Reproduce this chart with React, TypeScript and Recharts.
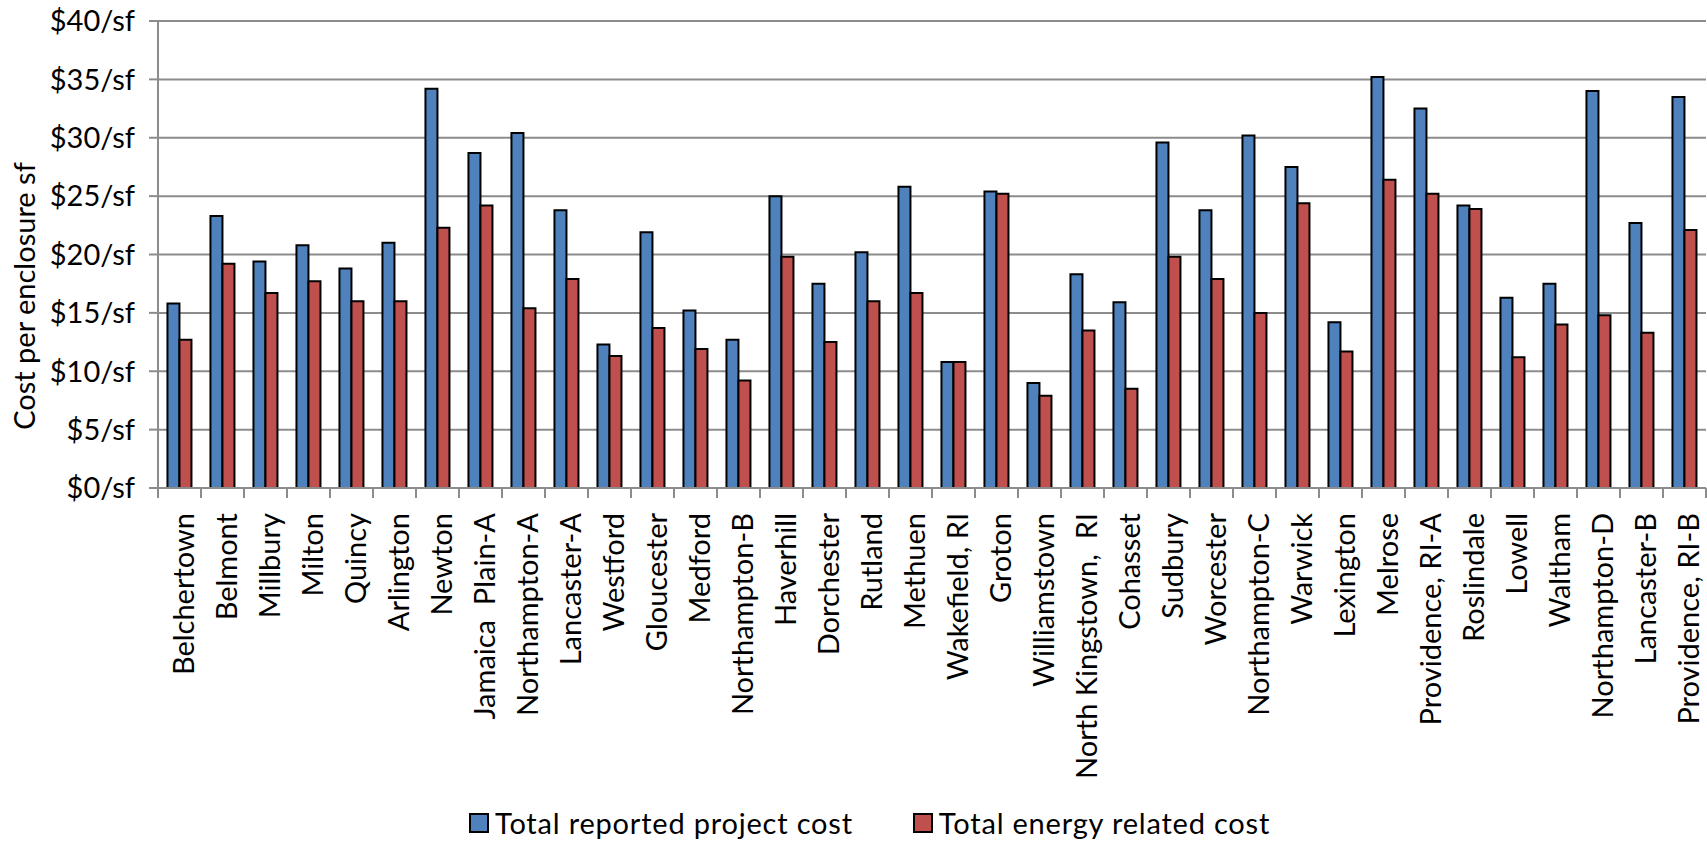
import React from 'react';
import { BarChart, Bar, XAxis, YAxis, CartesianGrid, Label } from 'recharts';

const sites = [
    'Belchertown', 'Belmont', 'Millbury', 'Milton', 'Quincy', 'Arlington', 'Newton', 'Jamaica  Plain-A',
    'Northampton-A', 'Lancaster-A', 'Westford', 'Gloucester', 'Medford', 'Northampton-B', 'Haverhill',
    'Dorchester', 'Rutland', 'Methuen', 'Wakefield, RI', 'Groton', 'Williamstown', 'North Kingstown,  RI',
    'Cohasset', 'Sudbury', 'Worcester', 'Northampton-C', 'Warwick', 'Lexington', 'Melrose',
    'Providence, RI-A', 'Roslindale', 'Lowell', 'Waltham', 'Northampton-D', 'Lancaster-B', 'Providence, RI-B',
];

const totalCost = [
    15.8, 23.3, 19.4, 20.8, 18.8, 21.0, 34.2, 28.7, 30.4, 23.8, 12.3, 21.9, 15.2, 12.7, 25.0, 17.5, 20.2, 25.8,
    10.8, 25.4, 9.0, 18.3, 15.9, 29.6, 23.8, 30.2, 27.5, 14.2, 35.2, 32.5, 24.2, 16.3, 17.5, 34.0, 22.7, 33.5,
];

const energyCost = [
    12.7, 19.2, 16.7, 17.7, 16.0, 16.0, 22.3, 24.2, 15.4, 17.9, 11.3, 13.7, 11.9, 9.2, 19.8, 12.5, 16.0, 16.7,
    10.8, 25.2, 7.9, 13.5, 8.5, 19.8, 17.9, 15.0, 24.4, 11.7, 26.4, 25.2, 23.9, 11.2, 14.0, 14.8, 13.3, 22.1,
];

const yTicks = [0, 5, 10, 15, 20, 25, 30, 35, 40];

const BLUE = '#4F81BD';
const RED = '#C0504D';
const GRID = '#8C8C8C';
const FONT = "Lato, 'Open Sans', sans-serif";

const data = sites.map((name, i) => ({ name, total: totalCost[i], energy: energyCost[i] }));

// plot runs from x=158 to x=1706, one band per site
const BAND = (1706 - 158) / sites.length;

const SiteTick = (props: any) => {
    const { x, y, payload, index } = props;
    return (
        <g>
            <line x1={x - BAND / 2} y1={y} x2={x - BAND / 2} y2={y + 10} stroke={GRID} strokeWidth={2} />
            {index === sites.length - 1 && (
                <line x1={x + BAND / 2} y1={y} x2={x + BAND / 2} y2={y + 10} stroke={GRID} strokeWidth={2} />
            )}
            <text
                transform={`translate(${x + 14},${y + 25}) rotate(-90)`}
                textAnchor="end"
                fontSize={29}
                fontFamily={FONT}
                fill="#000"
                style={{ whiteSpace: 'pre' }}
            >
                {payload.value}
            </text>
        </g>
    );
};

const LegendItem = ({ color, text }: { color: string; text: string }) => (
    <div style={{ display: 'flex', alignItems: 'center' }}>
        <div style={{ width: 16, height: 16, background: color, border: '2px solid #000', marginRight: 6 }} />
        <span style={{ fontSize: 29, fontFamily: FONT, color: '#000', lineHeight: 1, letterSpacing: 0.8 }}>{text}</span>
    </div>
);

const App: React.FC = () => {
    return (
        <div style={{ position: 'absolute', left: 0, top: 0, width: 1707, height: 844, background: '#fff' }}>
            <BarChart
                width={1707}
                height={844}
                data={data}
                margin={{ top: 21, right: 1, left: 0, bottom: 0 }}
                barCategoryGap="22%"
                barGap={0}
            >
                <CartesianGrid horizontal vertical={false} stroke={GRID} strokeWidth={2} />
                <XAxis
                    dataKey="name"
                    interval={0}
                    height={356}
                    tickLine={false}
                    tickSize={0}
                    tickMargin={0}
                    axisLine={{ stroke: GRID, strokeWidth: 2 }}
                    tick={<SiteTick />}
                />
                <YAxis
                    width={158}
                    domain={[0, 40]}
                    ticks={yTicks}
                    interval={0}
                    tickFormatter={(v) => `$${v}/sf`}
                    tick={{ fill: '#000', fontSize: 29, fontFamily: FONT }}
                    tickSize={9}
                    tickMargin={14}
                    tickLine={{ stroke: GRID, strokeWidth: 2 }}
                    axisLine={{ stroke: GRID, strokeWidth: 2 }}
                >
                    <Label
                        content={() => (
                            <text
                                transform="translate(35,296) rotate(-90)"
                                textAnchor="middle"
                                fontSize={29}
                                fontFamily={FONT}
                                fill="#000"
                            >
                                Cost per enclosure sf
                            </text>
                        )}
                    />
                </YAxis>
                <Bar dataKey="total" name="Total reported project cost" fill={BLUE} stroke="#000" strokeWidth={2} isAnimationActive={false} />
                <Bar dataKey="energy" name="Total energy related cost" fill={RED} stroke="#000" strokeWidth={2} isAnimationActive={false} />
            </BarChart>
            <div style={{ position: 'absolute', top: 808, left: 469, display: 'flex', gap: 60 }}>
                <LegendItem color={BLUE} text="Total reported project cost" />
                <LegendItem color={RED} text="Total energy related cost" />
            </div>
        </div>
    );
};

export default App;
